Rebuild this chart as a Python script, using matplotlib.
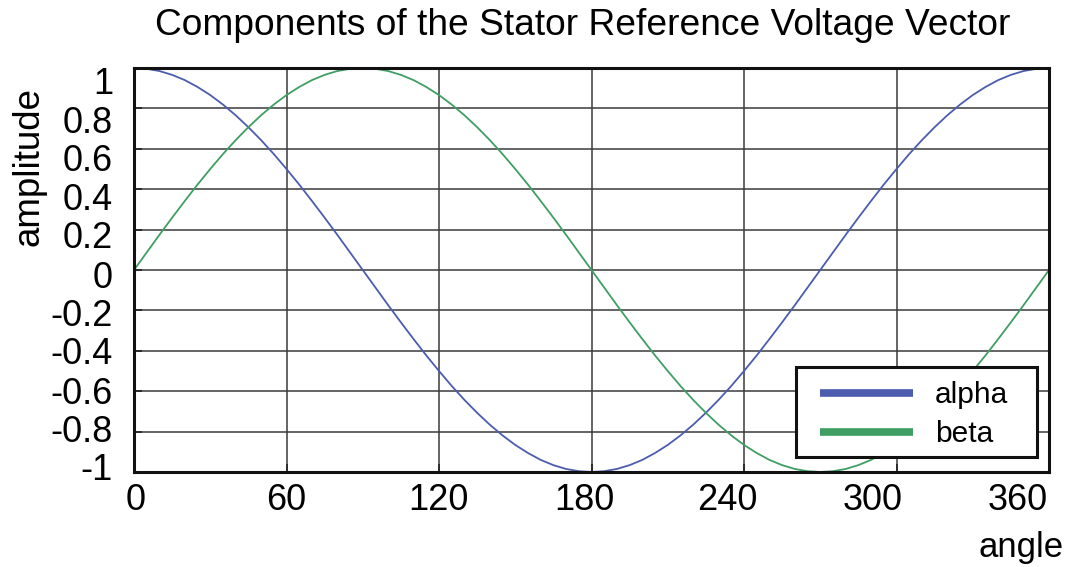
import matplotlib
matplotlib.use("Agg")
import matplotlib.pyplot as plt
import matplotlib.transforms as mtransforms
from matplotlib.patches import Rectangle

angle = [0, 5, 10, 15, 20, 25, 30, 35, 40, 45, 50, 55, 60, 65, 70, 75, 80, 85, 90,
         95, 100, 105, 110, 115, 120, 125, 130, 135, 140, 145, 150, 155, 160, 165, 170, 175, 180,
         185, 190, 195, 200, 205, 210, 215, 220, 225, 230, 235, 240, 245, 250, 255, 260, 265, 270,
         275, 280, 285, 290, 295, 300, 305, 310, 315, 320, 325, 330, 335, 340, 345, 350, 355, 360]
alpha = [1.0, 0.996, 0.985, 0.966, 0.94, 0.906, 0.866, 0.819, 0.766, 0.707, 0.643, 0.574, 0.5,
         0.423, 0.342, 0.259, 0.174, 0.087, 0.0, -0.087, -0.174, -0.259, -0.342, -0.423, -0.5,
         -0.574, -0.643, -0.707, -0.766, -0.819, -0.866, -0.906, -0.94, -0.966, -0.985, -0.996, -1.0,
         -0.996, -0.985, -0.966, -0.94, -0.906, -0.866, -0.819, -0.766, -0.707, -0.643, -0.574, -0.5,
         -0.423, -0.342, -0.259, -0.174, -0.087, 0.0, 0.087, 0.174, 0.259, 0.342, 0.423, 0.5,
         0.574, 0.643, 0.707, 0.766, 0.819, 0.866, 0.906, 0.94, 0.966, 0.985, 0.996, 1.0]
beta = [0.0, 0.087, 0.174, 0.259, 0.342, 0.423, 0.5, 0.574, 0.643, 0.707, 0.766, 0.819, 0.866,
        0.906, 0.94, 0.966, 0.985, 0.996, 1.0, 0.996, 0.985, 0.966, 0.94, 0.906, 0.866,
        0.819, 0.766, 0.707, 0.643, 0.574, 0.5, 0.423, 0.342, 0.259, 0.174, 0.087, 0.0,
        -0.087, -0.174, -0.259, -0.342, -0.423, -0.5, -0.574, -0.643, -0.707, -0.766, -0.819, -0.866,
        -0.906, -0.94, -0.966, -0.985, -0.996, -1.0, -0.996, -0.985, -0.966, -0.94, -0.906, -0.866,
        -0.819, -0.766, -0.707, -0.643, -0.574, -0.5, -0.423, -0.342, -0.259, -0.174, -0.087, 0.0]
xticks = [0, 60, 120, 180, 240, 300, 360]
xtick_labels = ["0", "60", "120", "180", "240", "300", "360"]
yticks = [1, 0.8, 0.6, 0.4, 0.2, 0, -0.2, -0.4, -0.6, -0.8, -1]
ytick_labels = ["1", "0.8", "0.6", "0.4", "0.2", "0", "-0.2", "-0.4", "-0.6", "-0.8", "-1"]

# label offsets in pixels as they appear in the reference (dx for x labels, dy downward for y labels)
xlab_dx = [2, 0, -1, -7, -17, -24, -31]
ylab_dy = [17, 15, 13, 11, 9, 8, 6, 4, 3, 1, -2]

plt.rcParams['font.family'] = ['Liberation Sans', 'DejaVu Sans']
W, H = 1070, 567
fig = plt.figure(figsize=(W / 100, H / 100), dpi=100)
ax = fig.add_axes([134 / W, 1 - 472 / H, (1049 - 134) / W, (472 - 68) / H])

ax.plot(angle, alpha, color="#4c5cae", lw=1.3, label="alpha")
ax.plot(angle, beta, color="#3f9e63", lw=1.3, label="beta")

ax.set_xlim(0, 360)
ax.set_ylim(-1, 1)
ax.set_xticks(xticks)
ax.set_yticks(yticks)
ax.set_xticklabels([])
ax.set_yticklabels([])
ax.grid(True, color="#3a3a3a", lw=1.1)
ax.set_axisbelow(True)
ax.tick_params(direction="in", length=6, width=1.2, color="#222222")
for s in ax.spines.values():
    s.set_linewidth(2.2)
    s.set_color("#111111")

tick_fs = 26
xtrans = mtransforms.blended_transform_factory(ax.transData, ax.transAxes)
for v, lab, dx in zip(xticks, xtick_labels, xlab_dx):
    off = mtransforms.ScaledTranslation(dx / 100, -11 / 100, fig.dpi_scale_trans)
    ax.text(v, 0, lab, transform=xtrans + off, ha="center", va="top", fontsize=tick_fs, clip_on=False)
ytrans = mtransforms.blended_transform_factory(ax.transAxes, ax.transData)
for v, lab, dy in zip(yticks, ytick_labels, ylab_dy):
    off = mtransforms.ScaledTranslation(-21 / 100, -dy / 100, fig.dpi_scale_trans)
    ax.text(0, v, lab, transform=ytrans + off, ha="right", va="center", fontsize=tick_fs, clip_on=False)

fig.text(583 / W, 1 - 35 / H, "Components of the Stator Reference Voltage Vector",
         ha="center", va="baseline", fontsize=26.7)
fig.text(1064 / W, 1 - 557 / H, "angle", ha="right", va="baseline", fontsize=25)
fig.text(38 / W, 1 - 166.5 / H, "amplitude", ha="center", va="baseline", rotation=90,
         rotation_mode="anchor", fontsize=26.5)

# legend frame
ax.add_patch(Rectangle((796 / W, 1 - 457 / H), (1037 - 796) / W, (457 - 367) / H,
                       transform=fig.transFigure, facecolor="white", edgecolor="#111111",
                       lw=2.2, zorder=5, clip_on=False))
leg = ax.legend(loc="upper left", bbox_to_anchor=(814 / W, 1 - 375 / H), bbox_transform=fig.transFigure,
                fontsize=21.5, frameon=False, handlelength=3.1, handletextpad=0.75,
                borderpad=0.2, labelspacing=0.38, borderaxespad=0)
leg.set_zorder(6)
for h in leg.get_lines():
    h.set_linewidth(5.5)
    h.set_solid_capstyle("butt")

fig.savefig("out.png", dpi=100)
